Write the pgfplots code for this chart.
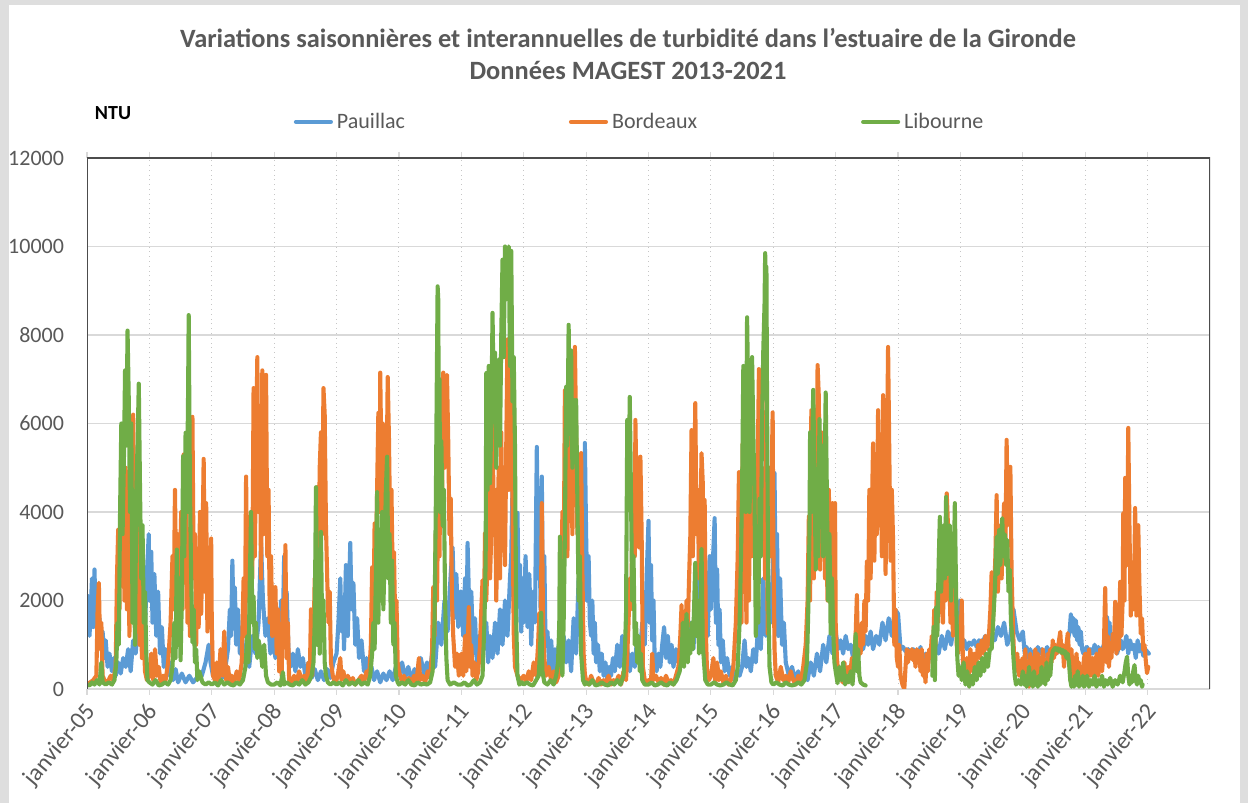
\documentclass[border=0pt]{standalone}
\usepackage{pgfplots}
\pgfplotsset{compat=1.18}
\usepackage{fontspec}
\setmainfont{Carlito}
\definecolor{cblue}{HTML}{5B9BD5}
\definecolor{corange}{HTML}{ED7D31}
\definecolor{cgreen}{HTML}{70AD47}
\definecolor{ctext}{HTML}{595959}
\definecolor{cgrid}{HTML}{D9D9D9}
\definecolor{cframe}{HTML}{DEDEDE}
\begin{document}
\begin{tikzpicture}
\fill[cframe] (0,0) rectangle (624pt,401.5pt);
\fill[white] (4.5pt,0) rectangle (620pt,399pt);
\useasboundingbox (0,0) rectangle (624pt,401.5pt);
\node[font=\fontsize{13.2}{15}\selectfont\bfseries, text=ctext] at (314pt,382.5pt) {Variations saisonnières et interannuelles de turbidité dans l'estuaire de la Gironde};
\node[font=\fontsize{13.2}{15}\selectfont\bfseries, text=ctext] at (314pt,366.5pt) {Données MAGEST 2013-2021};
\node[font=\fontsize{10}{12}\selectfont\bfseries, text=black] at (56.5pt,345pt) {NTU};
\begin{axis}[
  at={(43.5pt,57pt)}, anchor=south west, scale only axis,
  width=561.5pt, height=265.5pt,
  xmin=2005, xmax=2023, ymin=0, ymax=12000,
  xtick={2005,2006,...,2022},
  xticklabels={janvier-05,janvier-06,janvier-07,janvier-08,janvier-09,janvier-10,janvier-11,janvier-12,janvier-13,janvier-14,janvier-15,janvier-16,janvier-17,janvier-18,janvier-19,janvier-20,janvier-21,janvier-22},
  ytick={0,2000,...,12000},
  scaled y ticks=false,
  /pgf/number format/1000 sep={},
  /pgf/number format/assume math mode=true,
  tick label style={font=\fontsize{11}{13}\selectfont, text=ctext},
  xticklabel style={font=\fontsize{12}{14}\selectfont, rotate=50, anchor=east, xshift=0pt, yshift=-6pt},
  yticklabel style={xshift=-5pt},
  ytick style={draw=none},
  xtick style={draw=cgrid, line width=0.6pt},
  tick align=outside, major tick length=3pt,
  xmajorgrids, ymajorgrids,
  x grid style={draw=gray!45, dotted, line width=0.5pt},
  y grid style={draw=cgrid, line width=0.8pt},
  axis line style={draw=none},
  unbounded coords=jump,
  legend columns=3,
  legend style={at={(0.493,1.068)}, anchor=center, draw=none, fill=none,
    font=\fontsize{11}{13}\selectfont, text=ctext,
    /tikz/every even column/.append style={column sep=80pt},
    inner sep=0pt},
  legend cell align=left,
  legend image code/.code={\draw[#1] (0pt,0pt) -- (17.5pt,0pt);},
  every axis plot/.append style={line width=2.05pt, line join=round, line cap=round},
]
\addplot[cblue] coordinates {
(2005.00,1600) (2005.02,2100) (2005.04,1200) (2005.06,1800) (2005.08,2500) (2005.10,1400) (2005.12,2700) (2005.14,1500) (2005.16,2200) (2005.18,900) (2005.20,1600) (2005.22,1000) (2005.25,1300) (2005.28,700) (2005.30,1100) (2005.33,500) (2005.36,800) (2005.40,400) (2005.43,700) (2005.46,300) (2005.50,600) (2005.54,350) (2005.58,700) (2005.62,500) (2005.66,900) (2005.70,400) (2005.74,1100) (2005.78,800) (2005.82,1500) (2005.86,1200) (2005.90,2000) (2005.93,1400) (2005.96,2600) (2005.99,3500)
(2006.00,2000) (2006.03,3100) (2006.05,1500) (2006.08,2600) (2006.11,1200) (2006.14,2200) (2006.17,800) (2006.20,1400) (2006.23,500) (2006.26,900) (2006.29,300) (2006.33,600) (2006.38,200) (2006.42,450) (2006.46,150) (2006.52,350) (2006.58,150) (2006.64,300) (2006.70,150) (2006.76,250) (2006.84,300) (2006.90,600) (2006.95,1000) (2006.98,600)
(2007.02,300) (2007.07,200) (2007.12,400) (2007.17,250) (2007.22,500) (2007.26,900) (2007.29,1800) (2007.31,1200) (2007.33,2900) (2007.35,1500) (2007.37,2300) (2007.39,1000) (2007.42,1800) (2007.45,800) (2007.48,1300) (2007.52,600) (2007.56,900) (2007.60,500) (2007.65,1200) (2007.70,800) (2007.75,1500) (2007.79,3300) (2007.82,2000) (2007.86,1200) (2007.90,1600) (2007.94,800) (2007.98,1200)
(2008.02,700) (2008.05,1200) (2008.08,900) (2008.11,2000) (2008.14,1500) (2008.16,3000) (2008.18,1500) (2008.20,2200) (2008.23,800) (2008.26,500) (2008.30,800) (2008.34,400) (2008.38,900) (2008.42,500) (2008.46,700) (2008.50,300) (2008.55,600) (2008.60,250) (2008.65,450) (2008.70,200) (2008.75,400) (2008.80,200) (2008.85,450) (2008.90,250) (2008.95,600)
(2009.00,800) (2009.03,1500) (2009.06,2500) (2009.08,1300) (2009.10,2000) (2009.12,900) (2009.15,2800) (2009.18,1200) (2009.22,3300) (2009.24,1800) (2009.27,2400) (2009.30,1000) (2009.33,1600) (2009.36,700) (2009.40,1100) (2009.44,400) (2009.48,700) (2009.52,300) (2009.56,500) (2009.60,200) (2009.65,400) (2009.70,150) (2009.75,350) (2009.80,200) (2009.85,400) (2009.90,200) (2009.95,500)
(2010.00,300) (2010.05,600) (2010.10,250) (2010.15,500) (2010.20,200) (2010.25,450) (2010.30,300) (2010.35,700) (2010.40,350) (2010.45,600) (2010.50,400) (2010.53,800) (2010.58,500) (2010.63,1500) (2010.68,1000) (2010.73,2000) (2010.78,1300) (2010.83,2600) (2010.86,3200) (2010.89,1600) (2010.92,2600) (2010.95,1400) (2010.98,2200)
(2011.00,2200) (2011.03,1200) (2011.06,2500) (2011.08,1000) (2011.10,3300) (2011.13,1600) (2011.16,2200) (2011.19,800) (2011.22,1600) (2011.25,500) (2011.28,1200) (2011.31,600) (2011.34,1800) (2011.37,900) (2011.40,1500) (2011.43,600) (2011.46,1200) (2011.50,700) (2011.54,1500) (2011.58,800) (2011.62,1800) (2011.66,1000) (2011.70,2000) (2011.74,1200) (2011.78,2500) (2011.80,3000) (2011.82,4560) (2011.84,2000) (2011.86,3200) (2011.88,1500) (2011.90,3980) (2011.92,2000) (2011.94,2800) (2011.96,1300) (2011.98,2500)
(2012.00,1500) (2012.03,3000) (2012.06,1400) (2012.09,2600) (2012.12,1000) (2012.15,2200) (2012.18,1500) (2012.21,5470) (2012.23,2500) (2012.25,4000) (2012.27,1800) (2012.29,4800) (2012.31,1500) (2012.33,3000) (2012.35,1000) (2012.38,1300) (2012.41,500) (2012.44,1100) (2012.47,400) (2012.50,900) (2012.53,300) (2012.56,1000) (2012.60,500) (2012.64,1200) (2012.68,600) (2012.72,1100) (2012.76,400) (2012.80,1600) (2012.84,800) (2012.88,2500) (2012.91,1500) (2012.94,3500) (2012.96,2000) (2012.98,5560)
(2013.00,3500) (2013.02,2000) (2013.04,3000) (2013.06,1500) (2013.08,1200) (2013.10,2000) (2013.12,800) (2013.14,1500) (2013.16,600) (2013.19,1000) (2013.22,400) (2013.25,800) (2013.28,300) (2013.31,600) (2013.34,200) (2013.37,500) (2013.40,300) (2013.43,700) (2013.46,400) (2013.50,1000) (2013.54,500) (2013.58,1200) (2013.62,600) (2013.66,900) (2013.70,400) (2013.74,800) (2013.78,500) (2013.82,1200) (2013.86,700) (2013.90,1500) (2013.94,1000) (2013.97,2500)
(2014.00,3800) (2014.02,1500) (2014.04,2800) (2014.06,1100) (2014.08,2000) (2014.10,600) (2014.13,400) (2014.16,800) (2014.19,500) (2014.22,1000) (2014.25,1400) (2014.28,700) (2014.31,1200) (2014.34,600) (2014.37,1000) (2014.40,500) (2014.44,900) (2014.48,600) (2014.52,1100) (2014.56,700) (2014.60,1300) (2014.64,800) (2014.68,1500) (2014.72,900) (2014.76,2000) (2014.79,1200) (2014.81,3300) (2014.83,1500) (2014.86,2500) (2014.89,1000) (2014.92,2000) (2014.95,1200) (2014.98,3000)
(2015.00,1800) (2015.03,2800) (2015.06,3860) (2015.08,1500) (2015.10,2700) (2015.12,1000) (2015.14,1800) (2015.16,600) (2015.19,1100) (2015.22,400) (2015.26,700) (2015.30,300) (2015.34,500) (2015.38,200) (2015.42,400) (2015.46,300) (2015.50,500) (2015.54,1100) (2015.57,500) (2015.60,700) (2015.64,400) (2015.68,900) (2015.72,600) (2015.76,1500) (2015.80,900) (2015.84,2500) (2015.88,1200) (2015.92,2000) (2015.96,1500)
(2016.00,3000) (2016.02,4880) (2016.04,2000) (2016.06,3500) (2016.08,1200) (2016.11,2500) (2016.14,1000) (2016.17,1500) (2016.20,600) (2016.25,300) (2016.30,500) (2016.35,200) (2016.40,400) (2016.45,150) (2016.50,350) (2016.55,200) (2016.60,600) (2016.65,300) (2016.70,800) (2016.75,400) (2016.80,1000) (2016.85,600) (2016.90,1200) (2016.95,800)
(2017.00,1300) (2017.04,900) (2017.08,1100) (2017.12,800) (2017.16,1200) (2017.20,900) (2017.24,1000) (2017.28,700) (2017.32,1100) (2017.36,800) (2017.40,1000) (2017.44,900) (2017.48,1200) (2017.52,1000) (2017.56,1300) (2017.60,900) (2017.65,1200) (2017.70,1000) (2017.75,1500) (2017.80,1100) (2017.85,1600) (2017.90,1200) (2017.95,1800)
(2018.00,1700) (2018.04,900) (2018.08,950) (2018.12,850) (2018.16,900) (2018.20,800) (2018.24,900) (2018.28,850) (2018.32,700) (2018.36,950) (2018.40,500) (2018.44,800) (2018.48,600) (2018.52,900) (2018.56,700) (2018.60,1000) (2018.65,800) (2018.70,1200) (2018.75,900) (2018.80,1300) (2018.85,1000) (2018.90,1500) (2018.95,1200) (2018.99,2000)
(2019.03,1000) (2019.06,1100) (2019.10,900) (2019.14,1050) (2019.18,1000) (2019.22,1100) (2019.26,950) (2019.30,1100) (2019.35,1050) (2019.40,1200) (2019.45,1000) (2019.50,1300) (2019.55,1100) (2019.60,1400) (2019.65,1200) (2019.70,1500) (2019.75,1000) (2019.80,1200) (2019.85,1800) (2019.90,1300) (2019.95,1100)
(2020.00,1300) (2020.03,800) (2020.06,950) (2020.09,700) (2020.12,900) (2020.15,650) (2020.18,850) (2020.21,700) (2020.24,950) (2020.27,800) (2020.30,900) (2020.33,700) (2020.36,850) (2020.39,950) (2020.42,800) (2020.45,900) (2020.48,850) (2020.51,950) (2020.54,800) (2020.57,900) (2020.60,1000) (2020.63,850) (2020.66,950) (2020.69,900) (2020.72,1100) (2020.75,1300) (2020.77,1690) (2020.79,1300) (2020.81,1600) (2020.83,1200) (2020.85,1550) (2020.87,1100) (2020.89,1400) (2020.91,1000) (2020.93,1300) (2020.95,900) (2020.97,800) (2020.99,900)
(2021.03,950) (2021.06,750) (2021.09,900) (2021.12,800) (2021.15,1000) (2021.18,850) (2021.21,950) (2021.24,750) (2021.27,900) (2021.30,1000) (2021.33,1300) (2021.35,1630) (2021.37,1200) (2021.39,1500) (2021.41,1000) (2021.43,1250) (2021.45,900) (2021.48,1000) (2021.51,800) (2021.54,950) (2021.57,1100) (2021.60,900) (2021.63,1000) (2021.66,1200) (2021.69,800) (2021.72,1100) (2021.75,900) (2021.78,1000) (2021.81,700) (2021.84,1100) (2021.87,850) (2021.90,1000) (2021.93,750) (2021.96,900) (2021.99,850) (2022.02,800)
};
\addlegendentry{Pauillac}
\addplot[corange] coordinates {
(2005.00,100) (2005.05,150) (2005.10,200) (2005.15,300) (2005.17,1800) (2005.19,2400) (2005.21,900) (2005.23,1500) (2005.25,300) (2005.28,200) (2005.33,150) (2005.38,300) (2005.42,200) (2005.46,500) (2005.48,2500) (2005.50,3600) (2005.52,1800) (2005.54,4200) (2005.56,2800) (2005.58,4500) (2005.60,2000) (2005.62,5000) (2005.64,1800) (2005.66,3500) (2005.68,1200) (2005.70,5500) (2005.72,2500) (2005.74,6200) (2005.76,3000) (2005.78,4200) (2005.80,1500) (2005.82,3900) (2005.84,1000) (2005.86,2500) (2005.88,700) (2005.90,1500) (2005.93,400) (2005.96,200)
(2006.00,300) (2006.03,800) (2006.06,200) (2006.09,900) (2006.12,300) (2006.15,500) (2006.18,150) (2006.22,300) (2006.26,200) (2006.30,600) (2006.34,1500) (2006.37,3000) (2006.39,1800) (2006.41,4500) (2006.43,2200) (2006.45,3500) (2006.47,1500) (2006.49,2800) (2006.51,4000) (2006.53,1800) (2006.55,5300) (2006.57,2500) (2006.59,4200) (2006.61,1500) (2006.63,3000) (2006.65,1200) (2006.67,4500) (2006.69,6150) (2006.71,2500) (2006.73,3500) (2006.75,1000) (2006.77,2800) (2006.79,1400) (2006.81,4000) (2006.83,1700) (2006.85,3200) (2006.87,5200) (2006.89,2200) (2006.91,4200) (2006.93,1300) (2006.95,2800) (2006.97,1500) (2006.99,3400)
(2007.00,1500) (2007.02,300) (2007.05,200) (2007.08,600) (2007.11,150) (2007.14,900) (2007.17,300) (2007.20,1300) (2007.23,200) (2007.26,500) (2007.29,150) (2007.32,300) (2007.36,150) (2007.40,400) (2007.44,200) (2007.48,600) (2007.51,2500) (2007.53,1200) (2007.55,4800) (2007.57,2000) (2007.59,3500) (2007.61,1500) (2007.63,4000) (2007.65,2500) (2007.67,6800) (2007.69,3000) (2007.71,5500) (2007.73,7500) (2007.75,4000) (2007.77,6000) (2007.79,2500) (2007.81,7200) (2007.83,3500) (2007.85,5000) (2007.87,7100) (2007.89,3000) (2007.91,4500) (2007.93,1500) (2007.95,3000) (2007.97,1200) (2007.99,2300)
(2008.00,1500) (2008.02,2300) (2008.04,800) (2008.06,1800) (2008.08,400) (2008.10,1200) (2008.12,300) (2008.14,2000) (2008.16,1000) (2008.18,3250) (2008.20,700) (2008.22,1500) (2008.24,200) (2008.28,150) (2008.32,300) (2008.36,150) (2008.40,400) (2008.44,200) (2008.48,300) (2008.52,150) (2008.55,600) (2008.57,200) (2008.59,1800) (2008.61,300) (2008.63,1000) (2008.65,2500) (2008.67,1500) (2008.69,4560) (2008.71,2500) (2008.73,5000) (2008.75,5800) (2008.77,3500) (2008.79,6800) (2008.81,6200) (2008.83,3700) (2008.85,2500) (2008.87,1500) (2008.89,2200) (2008.91,600) (2008.94,300) (2008.97,150)
(2009.00,200) (2009.03,400) (2009.06,700) (2009.08,200) (2009.11,400) (2009.14,150) (2009.18,300) (2009.22,150) (2009.26,250) (2009.30,100) (2009.35,200) (2009.40,300) (2009.44,150) (2009.48,400) (2009.52,250) (2009.55,1000) (2009.57,2750) (2009.59,1500) (2009.61,3740) (2009.63,2500) (2009.65,4500) (2009.67,6240) (2009.69,4000) (2009.70,7150) (2009.72,5000) (2009.74,6000) (2009.76,3500) (2009.78,5500) (2009.80,4500) (2009.82,7050) (2009.84,5650) (2009.86,3500) (2009.88,4500) (2009.90,2500) (2009.92,3100) (2009.94,1500) (2009.96,2000) (2009.98,600)
(2010.00,400) (2010.04,200) (2010.08,300) (2010.12,150) (2010.16,250) (2010.20,100) (2010.24,300) (2010.28,150) (2010.32,700) (2010.34,200) (2010.38,300) (2010.42,150) (2010.46,400) (2010.50,250) (2010.53,800) (2010.55,2300) (2010.57,1200) (2010.59,3500) (2010.61,2000) (2010.63,4500) (2010.65,3000) (2010.67,6000) (2010.69,4000) (2010.71,7150) (2010.73,5000) (2010.75,6500) (2010.77,7100) (2010.79,5600) (2010.81,3500) (2010.83,4300) (2010.85,2000) (2010.87,1200) (2010.90,500) (2010.93,800) (2010.96,300)
(2011.00,800) (2011.03,300) (2011.06,1200) (2011.08,400) (2011.10,900) (2011.12,1850) (2011.14,500) (2011.16,1000) (2011.18,300) (2011.21,600) (2011.24,200) (2011.27,400) (2011.30,1000) (2011.32,1800) (2011.34,2460) (2011.36,1500) (2011.38,3520) (2011.40,2000) (2011.42,3000) (2011.44,4650) (2011.46,2500) (2011.48,3500) (2011.50,6370) (2011.52,3500) (2011.54,4500) (2011.56,2000) (2011.58,3800) (2011.60,5000) (2011.62,2500) (2011.64,5800) (2011.66,3500) (2011.68,4500) (2011.70,2800) (2011.72,5500) (2011.74,7900) (2011.76,4500) (2011.78,6900) (2011.80,7280) (2011.82,4270) (2011.84,1250) (2011.86,500) (2011.90,300) (2011.95,200)
(2012.00,300) (2012.04,150) (2012.08,400) (2012.12,200) (2012.16,600) (2012.20,300) (2012.23,1000) (2012.25,1720) (2012.27,800) (2012.29,4200) (2012.31,1500) (2012.33,700) (2012.36,300) (2012.40,500) (2012.44,200) (2012.48,400) (2012.52,150) (2012.56,300) (2012.58,800) (2012.60,2000) (2012.62,4000) (2012.64,2500) (2012.66,6750) (2012.68,5000) (2012.70,3000) (2012.72,6100) (2012.74,4500) (2012.76,5500) (2012.78,3500) (2012.80,6000) (2012.82,7730) (2012.84,5800) (2012.86,3500) (2012.88,4270) (2012.90,2500) (2012.92,5330) (2012.94,2700) (2012.96,800) (2012.98,330)
(2013.00,200) (2013.04,100) (2013.08,300) (2013.12,150) (2013.16,100) (2013.20,250) (2013.24,100) (2013.28,200) (2013.32,150) (2013.36,300) (2013.40,100) (2013.44,200) (2013.48,150) (2013.52,300) (2013.56,100) (2013.60,400) (2013.64,200) (2013.66,800) (2013.68,1500) (2013.70,2500) (2013.72,1800) (2013.74,3500) (2013.76,4500) (2013.78,3000) (2013.79,6080) (2013.81,4270) (2013.83,5000) (2013.85,3200) (2013.87,5250) (2013.89,3500) (2013.91,500) (2013.94,200) (2013.97,150)
(2014.00,200) (2014.04,150) (2014.06,800) (2014.08,200) (2014.12,300) (2014.16,150) (2014.20,250) (2014.24,100) (2014.28,300) (2014.32,150) (2014.36,200) (2014.40,100) (2014.44,300) (2014.48,500) (2014.51,1200) (2014.53,1900) (2014.55,800) (2014.57,1600) (2014.59,1100) (2014.61,2000) (2014.63,1400) (2014.65,2500) (2014.67,3440) (2014.69,5850) (2014.71,3000) (2014.73,4270) (2014.75,6460) (2014.77,3500) (2014.79,4500) (2014.81,2500) (2014.83,3500) (2014.85,5330) (2014.87,4650) (2014.89,2000) (2014.90,4270) (2014.92,1250) (2014.94,300) (2014.97,200)
(2015.00,300) (2015.04,700) (2015.07,150) (2015.10,600) (2015.13,200) (2015.16,400) (2015.20,150) (2015.24,300) (2015.28,100) (2015.32,200) (2015.36,500) (2015.40,1500) (2015.43,3000) (2015.45,4900) (2015.47,2800) (2015.49,1500) (2015.51,5550) (2015.53,2500) (2015.55,3500) (2015.57,1500) (2015.59,4000) (2015.61,2000) (2015.63,4800) (2015.65,3000) (2015.67,5800) (2015.69,3500) (2015.71,4500) (2015.73,2500) (2015.75,5000) (2015.77,7230) (2015.79,5800) (2015.81,3500) (2015.83,5000) (2015.85,4270) (2015.87,2500) (2015.89,6700) (2015.91,1250) (2015.93,5000) (2015.95,3000) (2015.97,4500) (2015.99,6250)
(2016.00,3500) (2016.02,900) (2016.04,300) (2016.08,150) (2016.12,500) (2016.16,200) (2016.20,300) (2016.24,150) (2016.28,400) (2016.32,200) (2016.36,100) (2016.40,300) (2016.44,150) (2016.48,500) (2016.52,1000) (2016.55,2000) (2016.57,3900) (2016.59,2000) (2016.61,6300) (2016.63,5000) (2016.65,2500) (2016.67,4500) (2016.69,3000) (2016.71,7320) (2016.73,6600) (2016.75,2700) (2016.77,5800) (2016.79,3500) (2016.81,4270) (2016.83,2500) (2016.85,3500) (2016.87,2000) (2016.89,4500) (2016.91,3000) (2016.93,2500) (2016.95,4200) (2016.97,2000) (2016.99,4200)
(2017.00,1500) (2017.02,700) (2017.05,200) (2017.08,400) (2017.11,150) (2017.14,600) (2017.17,130) (2017.20,500) (2017.23,300) (2017.26,700) (2017.29,400) (2017.32,1200) (2017.34,2120) (2017.36,700) (2017.38,1200) (2017.40,800) (2017.42,1500) (2017.44,1000) (2017.46,2000) (2017.48,1300) (2017.50,2880) (2017.52,2000) (2017.54,4500) (2017.56,2500) (2017.58,4000) (2017.60,5550) (2017.62,2900) (2017.64,4800) (2017.66,3500) (2017.68,6300) (2017.70,3700) (2017.72,5500) (2017.74,3000) (2017.76,6640) (2017.78,4500) (2017.80,2600) (2017.82,5000) (2017.84,7730) (2017.86,5300) (2017.88,2900) (2017.90,4500) (2017.92,3370) (2017.94,1000) (2017.96,1800) (2017.98,700)
(2018.00,500) (2018.02,1000) (2018.04,300) (2018.07,100) (2018.10,0) (2018.12,500) (2018.14,900) (2018.16,600) (2018.18,850) (2018.20,700) (2018.22,900) (2018.24,650) (2018.26,850) (2018.28,500) (2018.30,900) (2018.32,700) (2018.34,850) (2018.36,400) (2018.38,900) (2018.40,300) (2018.42,600) (2018.44,150) (2018.46,800) (2018.48,400) (2018.50,900) (2018.52,700) (2018.54,1200) (2018.56,800) (2018.58,1790) (2018.60,1000) (2018.62,2200) (2018.64,1500) (2018.66,2650) (2018.68,1800) (2018.70,2400) (2018.72,1500) (2018.74,3200) (2018.76,2000) (2018.78,4420) (2018.80,3700) (2018.82,2600) (2018.84,1500) (2018.86,2450) (2018.88,1200) (2018.90,2000) (2018.92,2620) (2018.94,1000) (2018.96,800) (2018.98,1100)
(2019.00,1000) (2019.02,2000) (2019.04,600) (2019.07,200) (2019.10,700) (2019.13,300) (2019.16,900) (2019.19,400) (2019.22,800) (2019.25,500) (2019.28,1000) (2019.31,700) (2019.34,1100) (2019.37,800) (2019.40,1200) (2019.43,900) (2019.46,1300) (2019.48,1800) (2019.50,2640) (2019.52,1500) (2019.54,2200) (2019.56,3000) (2019.58,4380) (2019.60,2200) (2019.62,2900) (2019.64,3700) (2019.66,2500) (2019.68,3500) (2019.70,4200) (2019.72,3000) (2019.74,5630) (2019.76,3700) (2019.78,4300) (2019.80,5020) (2019.82,2600) (2019.84,1500) (2019.86,700) (2019.88,400) (2019.91,800) (2019.94,300) (2019.97,600)
(2020.00,700) (2020.02,200) (2020.04,900) (2020.06,100) (2020.08,600) (2020.10,50) (2020.12,800) (2020.14,200) (2020.16,700) (2020.18,100) (2020.20,900) (2020.22,300) (2020.24,800) (2020.26,150) (2020.28,700) (2020.30,400) (2020.32,900) (2020.34,200) (2020.36,600) (2020.38,300) (2020.40,800) (2020.42,500) (2020.44,900) (2020.46,600) (2020.48,1100) (2020.50,700) (2020.52,1000) (2020.54,800) (2020.56,900) (2020.58,1100) (2020.60,1290) (2020.62,800) (2020.64,1000) (2020.66,500) (2020.68,900) (2020.70,1000) (2020.72,1260) (2020.74,800) (2020.76,300) (2020.78,900) (2020.80,100) (2020.82,700) (2020.84,200) (2020.86,800) (2020.88,300) (2020.90,600) (2020.92,100) (2020.94,500) (2020.96,200) (2020.98,700)
(2021.00,800) (2021.03,200) (2021.06,900) (2021.09,300) (2021.12,700) (2021.15,100) (2021.18,800) (2021.21,300) (2021.24,900) (2021.27,400) (2021.30,1000) (2021.32,2280) (2021.34,600) (2021.36,1200) (2021.38,500) (2021.40,1000) (2021.42,700) (2021.44,1250) (2021.46,900) (2021.48,1970) (2021.50,800) (2021.52,1250) (2021.54,900) (2021.56,2420) (2021.58,1200) (2021.60,2000) (2021.61,3970) (2021.63,2000) (2021.64,4770) (2021.66,2800) (2021.68,4200) (2021.69,5900) (2021.71,3550) (2021.73,1660) (2021.75,2800) (2021.77,1800) (2021.79,3000) (2021.80,4090) (2021.82,1660) (2021.84,2500) (2021.85,3700) (2021.87,2260) (2021.89,1250) (2021.91,1600) (2021.93,880) (2021.95,1000) (2021.97,650) (2021.99,360) (2022.01,500)
};
\addlegendentry{Bordeaux}
\addplot[cgreen] coordinates {
(2005.00,100) (2005.04,80) (2005.08,150) (2005.12,100) (2005.16,200) (2005.20,100) (2005.23,600) (2005.25,150) (2005.30,100) (2005.35,150) (2005.40,100) (2005.44,200) (2005.47,600) (2005.49,1500) (2005.51,1000) (2005.53,4000) (2005.55,6000) (2005.57,3500) (2005.59,5000) (2005.61,7200) (2005.63,5500) (2005.65,8100) (2005.67,6500) (2005.69,4000) (2005.71,6000) (2005.73,1500) (2005.75,3000) (2005.77,1000) (2005.79,4500) (2005.81,5500) (2005.83,6900) (2005.85,4500) (2005.87,2500) (2005.89,3700) (2005.91,1500) (2005.93,2200) (2005.95,800) (2005.97,200)
(2006.00,150) (2006.05,100) (2006.10,200) (2006.15,80) (2006.20,100) (2006.25,150) (2006.30,100) (2006.34,200) (2006.37,500) (2006.40,1500) (2006.42,700) (2006.44,3150) (2006.46,1000) (2006.48,2500) (2006.50,650) (2006.52,2000) (2006.54,5260) (2006.56,3000) (2006.58,5790) (2006.60,4000) (2006.62,6620) (2006.63,8450) (2006.65,4540) (2006.67,2500) (2006.69,1050) (2006.71,1800) (2006.73,600) (2006.75,900) (2006.77,200) (2006.80,400) (2006.85,150) (2006.90,100) (2006.95,150)
(2007.00,100) (2007.05,150) (2007.10,80) (2007.15,200) (2007.20,100) (2007.25,150) (2007.30,100) (2007.35,80) (2007.40,150) (2007.45,100) (2007.50,200) (2007.54,500) (2007.57,1200) (2007.59,600) (2007.61,2500) (2007.63,4000) (2007.65,1500) (2007.67,2100) (2007.69,900) (2007.71,1500) (2007.73,700) (2007.75,1100) (2007.78,900) (2007.81,500) (2007.84,1000) (2007.87,300) (2007.90,150) (2007.95,100)
(2008.00,100) (2008.05,150) (2008.10,80) (2008.14,380) (2008.16,100) (2008.20,150) (2008.25,100) (2008.30,80) (2008.35,150) (2008.40,100) (2008.45,200) (2008.50,100) (2008.55,150) (2008.60,300) (2008.63,600) (2008.65,1500) (2008.67,4560) (2008.69,1000) (2008.71,2500) (2008.73,800) (2008.75,3550) (2008.77,1200) (2008.79,2000) (2008.81,600) (2008.83,300) (2008.86,150) (2008.90,100) (2008.95,150)
(2009.00,100) (2009.05,150) (2009.10,80) (2009.15,200) (2009.20,100) (2009.25,150) (2009.30,100) (2009.35,200) (2009.40,100) (2009.45,150) (2009.50,100) (2009.54,300) (2009.57,800) (2009.59,1500) (2009.61,900) (2009.63,2500) (2009.65,4450) (2009.67,1500) (2009.69,3500) (2009.71,2000) (2009.73,4000) (2009.75,1800) (2009.77,3000) (2009.79,4500) (2009.81,5250) (2009.83,2500) (2009.85,3500) (2009.87,1500) (2009.89,2900) (2009.91,1000) (2009.93,1500) (2009.95,300) (2009.98,150)
(2010.00,100) (2010.05,150) (2010.10,100) (2010.15,200) (2010.20,100) (2010.25,80) (2010.30,150) (2010.35,100) (2010.40,120) (2010.45,100) (2010.50,150) (2010.54,400) (2010.57,1500) (2010.59,4000) (2010.61,7500) (2010.62,9100) (2010.63,8800) (2010.64,5500) (2010.65,7000) (2010.66,4000) (2010.68,5600) (2010.70,3700) (2010.72,4500) (2010.74,2000) (2010.76,700) (2010.78,200) (2010.82,100) (2010.88,150) (2010.94,100)
(2011.00,100) (2011.05,150) (2011.10,80) (2011.15,100) (2011.20,200) (2011.25,100) (2011.30,150) (2011.34,300) (2011.37,1500) (2011.39,2900) (2011.40,7140) (2011.42,4500) (2011.44,7300) (2011.46,4650) (2011.48,6000) (2011.50,8500) (2011.52,6500) (2011.54,7600) (2011.56,5000) (2011.58,6800) (2011.60,7450) (2011.62,5500) (2011.64,8000) (2011.66,9700) (2011.68,7500) (2011.70,10000) (2011.72,8800) (2011.74,9500) (2011.76,10000) (2011.78,7300) (2011.80,9900) (2011.82,6500) (2011.84,7500) (2011.86,5470) (2011.88,1500) (2011.90,300) (2011.93,100) (2011.97,150)
(2012.00,100) (2012.05,150) (2012.10,100) (2012.15,80) (2012.20,200) (2012.24,300) (2012.26,800) (2012.28,1720) (2012.30,400) (2012.33,150) (2012.38,100) (2012.43,200) (2012.48,100) (2012.52,300) (2012.55,600) (2012.57,1500) (2012.58,3440) (2012.60,800) (2012.62,300) (2012.64,1500) (2012.66,3500) (2012.68,6830) (2012.70,5500) (2012.72,8230) (2012.74,6000) (2012.76,7650) (2012.78,5000) (2012.80,6530) (2012.82,5500) (2012.84,6530) (2012.86,4270) (2012.88,2000) (2012.90,3000) (2012.92,800) (2012.95,200) (2012.98,100)
(2013.00,150) (2013.05,100) (2013.10,200) (2013.15,80) (2013.20,100) (2013.25,150) (2013.30,100) (2013.35,80) (2013.40,150) (2013.45,100) (2013.50,200) (2013.55,100) (2013.60,300) (2013.62,800) (2013.64,1700) (2013.66,6080) (2013.68,4500) (2013.70,6600) (2013.72,4270) (2013.74,2000) (2013.76,3000) (2013.78,1000) (2013.80,1500) (2013.82,600) (2013.84,1200) (2013.86,400) (2013.88,800) (2013.90,200) (2013.94,100)
(2014.00,100) (2014.05,150) (2014.10,80) (2014.15,100) (2014.20,150) (2014.25,100) (2014.30,80) (2014.35,150) (2014.40,100) (2014.45,200) (2014.50,400) (2014.53,700) (2014.55,1500) (2014.57,500) (2014.59,1200) (2014.61,1700) (2014.63,600) (2014.65,1300) (2014.67,800) (2014.69,1500) (2014.71,900) (2014.73,1800) (2014.75,2850) (2014.77,1200) (2014.79,2000) (2014.81,800) (2014.83,1500) (2014.85,3160) (2014.87,1000) (2014.89,600) (2014.91,200) (2014.95,100)
(2015.00,100) (2015.05,150) (2015.10,100) (2015.15,80) (2015.20,100) (2015.25,150) (2015.30,100) (2015.35,80) (2015.40,200) (2015.43,500) (2015.46,1500) (2015.48,2800) (2015.50,4500) (2015.52,7300) (2015.54,5800) (2015.56,4000) (2015.58,8400) (2015.60,6500) (2015.62,4000) (2015.64,6000) (2015.66,7500) (2015.68,5800) (2015.70,4270) (2015.72,1200) (2015.74,2700) (2015.76,1500) (2015.78,4300) (2015.80,3000) (2015.82,6000) (2015.84,7650) (2015.86,8700) (2015.87,9850) (2015.88,9000) (2015.89,9540) (2015.90,6500) (2015.92,2000) (2015.94,500) (2015.97,150)
(2016.00,100) (2016.05,150) (2016.10,100) (2016.15,80) (2016.20,150) (2016.25,100) (2016.30,80) (2016.35,100) (2016.40,150) (2016.45,100) (2016.50,200) (2016.54,600) (2016.56,1720) (2016.58,3500) (2016.59,5800) (2016.61,4000) (2016.64,6760) (2016.66,5000) (2016.68,2700) (2016.70,4650) (2016.72,3000) (2016.74,6100) (2016.76,4500) (2016.78,5500) (2016.80,3000) (2016.82,4500) (2016.84,6700) (2016.86,4270) (2016.88,2000) (2016.90,3500) (2016.92,1250) (2016.94,2500) (2016.96,1330) (2016.98,600)
(2017.00,400) (2017.03,130) (2017.06,500) (2017.09,200) (2017.12,600) (2017.15,100) (2017.18,300) (2017.21,150) (2017.24,400) (2017.27,100) (2017.30,700) (2017.32,1250) (2017.34,400) (2017.36,900) (2017.38,300) (2017.40,150) (2017.44,100) (2017.48,80) (2017.50,nan)
(2018.55,300) (2018.57,1400) (2018.59,200) (2018.61,1850) (2018.63,1200) (2018.65,2800) (2018.67,3890) (2018.69,2200) (2018.71,3000) (2018.73,3700) (2018.75,2500) (2018.77,4340) (2018.79,2600) (2018.81,3500) (2018.83,3700) (2018.85,2000) (2018.87,3000) (2018.89,2500) (2018.91,4200) (2018.93,2200) (2018.95,700) (2018.97,300) (2018.99,500)
(2019.02,200) (2019.05,600) (2019.08,100) (2019.11,400) (2019.14,50) (2019.17,300) (2019.20,100) (2019.23,500) (2019.26,200) (2019.29,600) (2019.32,300) (2019.35,700) (2019.38,400) (2019.41,800) (2019.44,500) (2019.47,900) (2019.50,900) (2019.52,1400) (2019.55,2200) (2019.58,3440) (2019.60,2600) (2019.62,3600) (2019.64,2800) (2019.67,3860) (2019.69,3000) (2019.71,3500) (2019.73,2800) (2019.75,3370) (2019.77,2200) (2019.79,2700) (2019.81,1500) (2019.83,1200) (2019.85,700) (2019.87,300) (2019.89,100) (2019.93,200) (2019.97,100)
(2020.00,400) (2020.02,100) (2020.04,300) (2020.06,50) (2020.08,200) (2020.10,500) (2020.12,100) (2020.14,300) (2020.16,50) (2020.18,400) (2020.20,100) (2020.22,200) (2020.24,50) (2020.26,300) (2020.28,100) (2020.30,500) (2020.32,150) (2020.34,400) (2020.36,100) (2020.38,600) (2020.40,200) (2020.42,400) (2020.44,300) (2020.46,700) (2020.48,850) (2020.50,900) (2020.52,930) (2020.54,880) (2020.56,920) (2020.58,850) (2020.60,900) (2020.62,820) (2020.64,880) (2020.66,800) (2020.68,850) (2020.70,700) (2020.72,800) (2020.74,600) (2020.76,200) (2020.78,50) (2020.80,200) (2020.82,50) (2020.84,300) (2020.86,100) (2020.88,400) (2020.90,50) (2020.92,200) (2020.94,100) (2020.96,300) (2020.98,50)
(2021.00,100) (2021.03,300) (2021.06,50) (2021.09,200) (2021.12,100) (2021.15,300) (2021.18,50) (2021.21,200) (2021.24,100) (2021.27,300) (2021.30,50) (2021.33,200) (2021.36,100) (2021.40,250) (2021.44,50) (2021.48,200) (2021.52,100) (2021.56,300) (2021.60,150) (2021.63,400) (2021.65,600) (2021.67,730) (2021.69,300) (2021.71,100) (2021.73,300) (2021.75,150) (2021.77,400) (2021.79,540) (2021.81,200) (2021.83,100) (2021.85,300) (2021.87,150) (2021.89,200) (2021.91,50) (2021.92,100)
};
\addlegendentry{Libourne}
\draw[black!70, line width=0.7pt] (rel axis cs:0,0) -- (rel axis cs:0,1) -- (rel axis cs:1,1) -- (rel axis cs:1,0);
\end{axis}
\end{tikzpicture}
\end{document}
